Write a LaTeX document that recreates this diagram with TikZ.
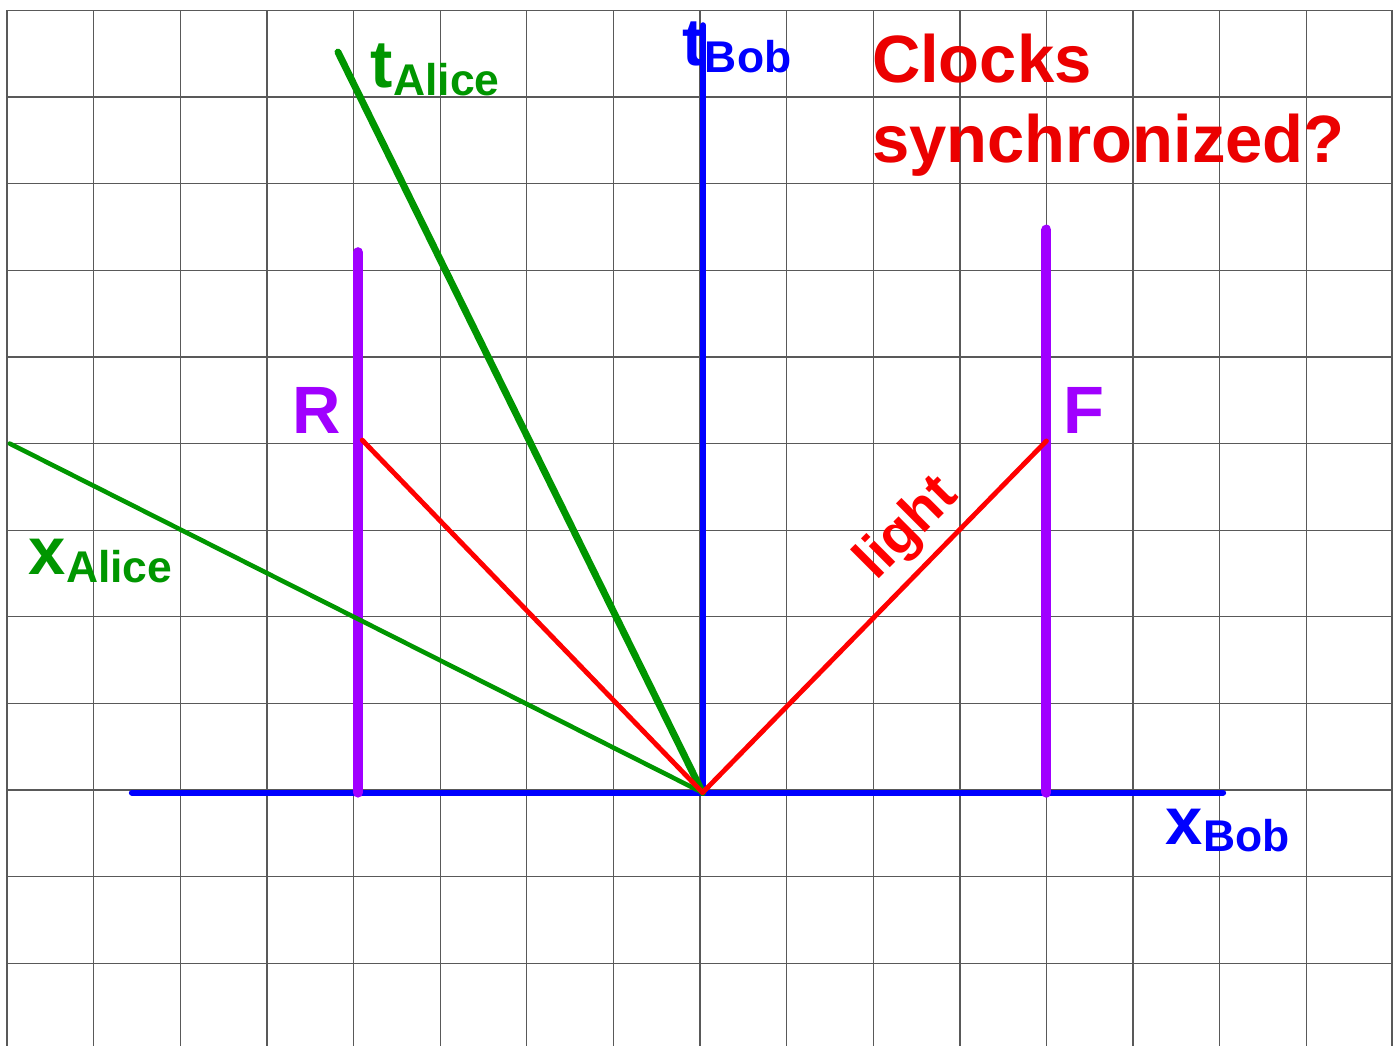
\documentclass[tikz,border=0pt]{standalone}
\usepackage{fontspec}
\setmainfont{Liberation Sans}
\definecolor{cblue}{RGB}{0,0,255}
\definecolor{cgreen}{RGB}{0,150,0}
\definecolor{cpurple}{RGB}{160,0,255}
\definecolor{cred}{RGB}{255,0,0}
\definecolor{ctitle}{RGB}{235,0,0}
\newcommand\mysub[1]{\raisebox{-2.5pt}{\fontsize{14.6}{16}\selectfont #1}}
\begin{document}
\begin{tikzpicture}[x=1cm,y=1cm,
  gridline/.style={black!65, line width=0.45pt},
  axisline/.style={cblue, line width=2pt, line cap=round},
  worldline/.style={cpurple, line width=3.3pt, line cap=round},
  alicet/.style={cgreen, line width=2.3pt, line cap=round},
  alicex/.style={cgreen, line width=1.5pt, line cap=round},
  lightray/.style={cred, line width=1.6pt, line cap=round},
  bigfont/.style={font=\fontsize{22}{26.6}\selectfont\bfseries},
  lbl/.style={bigfont, inner sep=0pt, outer sep=0pt, anchor=base west}]
\useasboundingbox (-8.083,-2.956) rectangle (8.002,9.122);
\fill[white] (-8.083,-2.956) rectangle (8.002,9.122);
% grid
\foreach \x in {-8,...,7} \draw[gridline] (\x,-2.96) -- (\x,9.01);
\draw[gridline] (7.99,-2.96) -- (7.99,9.01);
\foreach \y in {-2,...,9} \draw[gridline] (-8,\y) -- (8.002,\y);
% coordinates
\coordinate (O) at (0.03,-0.03);
\coordinate (xL) at (-6.56,-0.03);
\coordinate (xR) at (6.04,-0.03);
\coordinate (tTop) at (0.035,8.83);
\coordinate (tBase) at (0.035,-0.03);
\coordinate (Rb) at (-3.95,-0.03);
\coordinate (Rt) at (-3.95,6.21);
\coordinate (Fb) at (4.0,-0.03);
\coordinate (Ft) at (4.0,6.47);
\coordinate (tAend) at (-4.18,8.52);
\coordinate (xAend) at (-7.97,4.0);
\coordinate (Rhit) at (-3.90,4.04);
\coordinate (Fhit) at (4.0,4.03);
% Bob axes
\draw[axisline] (xL) -- (xR);
\draw[axisline] (tBase) -- (tTop);
% worldlines
\draw[worldline] (Rb) -- (Rt);
\draw[worldline] (Fb) -- (Ft);
% Alice axes
\draw[alicex] (O) -- (xAend);
\draw[alicet] (O) -- (tAend);
% light
\draw[lightray] (O) -- (Rhit);
\draw[lightray] (O) -- (Fhit);
% labels
\node[lbl, text=cgreen] (tA) at (-3.80,8.106) {t\mysub{Alice}};
\node[lbl, text=cblue] (tB) at (-0.20,8.37) {t\mysub{Bob}};
\node[lbl, text=cgreen] (xA) at (-7.75,2.483) {x\mysub{Alice}};
\node[lbl, text=cblue] (xB) at (5.38,-0.624) {x\mysub{Bob}};
\node[lbl, text=cpurple] (R) at (-4.71,4.12) {R};
\node[lbl, text=cpurple] (F) at (4.20,4.12) {F};
\node[lbl, text=ctitle, align=left] (title) at (1.986,7.24) {Clocks\\synchronized?};
\node[font=\fontsize{18.5}{20}\selectfont\bfseries, text=cred, inner sep=0pt, rotate=45] (light) at (2.40,3.01) {light};
\end{tikzpicture}
\end{document}
